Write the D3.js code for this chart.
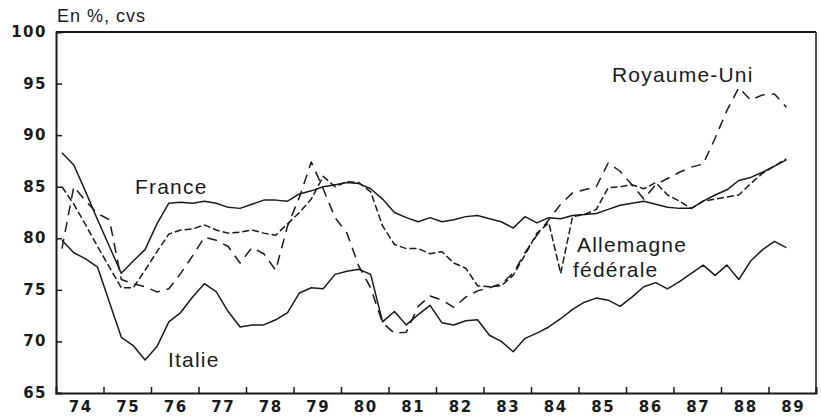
<!DOCTYPE html>
<html>
<head>
<meta charset="utf-8">
<script src="https://cdn.jsdelivr.net/npm/d3@7/dist/d3.min.js"></script>
<style>
  html, body { margin: 0; padding: 0; background: #fff; }
  svg { display: block; }
  .tick-label { font-family: "DejaVu Sans", sans-serif; font-weight: bold; font-size: 15px; fill: #1a1a1a; letter-spacing: 1.5px; }
  .series-label { font-family: "Liberation Sans", Arial, sans-serif; font-size: 21px; fill: #1a1a1a; letter-spacing: 1.2px; }
  .unit-label { font-family: "Liberation Sans", Arial, sans-serif; font-size: 18px; fill: #1a1a1a; letter-spacing: 1px; }
</style>
</head>
<body>
<svg id="chart" width="821" height="416"></svg>
<script>
// Taux d'utilisation des capacités de production, données trimestrielles (74T1 - 89T2)
const years = ["74","75","76","77","78","79","80","81","82","83","84","85","86","87","88","89"];
const yTicks = [65, 70, 75, 80, 85, 90, 95, 100];

const france = [
  88.3, 87.1, 84.5, 81.8, 79.2, 76.6, 77.8, 78.9, 81.4, 83.4, 83.5, 83.4,
  83.6, 83.4, 83.0, 82.9, 83.3, 83.7, 83.7, 83.6, 84.3, 84.6, 85.0, 85.2,
  85.4, 85.3, 84.8, 83.8, 82.5, 82.0, 81.6, 82.0, 81.6, 81.8, 82.1, 82.2,
  81.9, 81.6, 81.0, 82.1, 81.5, 82.0, 81.9, 82.2, 82.3, 82.4, 82.8, 83.2,
  83.4, 83.6, 83.3, 83.0, 82.9, 82.9, 83.6, 84.2, 84.7, 85.6, 85.9, 86.4,
  87.0, 87.6
];

const italie = [
  79.8, 78.6, 78.0, 77.2, 73.8, 70.4, 69.6, 68.2, 69.5, 71.9, 72.8, 74.3,
  75.6, 74.8, 72.9, 71.4, 71.6, 71.6, 72.1, 72.8, 74.7, 75.2, 75.1, 76.5,
  76.8, 77.0, 76.5, 71.9, 72.9, 71.6, 72.6, 73.5, 71.8, 71.6, 72.0, 72.1,
  70.6, 70.0, 69.0, 70.3, 70.8, 71.4, 72.2, 73.1, 73.8, 74.2, 74.0, 73.4,
  74.3, 75.3, 75.7, 75.1, 75.8, 76.6, 77.4, 76.4, 77.4, 76.0, 77.8, 78.9,
  79.7, 79.1
];

const allemagne = [
  85.0, 83.3, 81.3, 79.2, 77.2, 75.2, 75.2, 76.9, 78.7, 80.4, 80.8, 80.9,
  81.3, 80.8, 80.5, 80.6, 80.8, 80.5, 80.3, 81.4, 82.5, 83.8, 86.0, 85.0,
  85.5, 85.4, 84.5, 81.2, 79.4, 79.0, 79.0, 78.5, 78.7, 77.6, 77.1, 75.4,
  75.3, 75.4, 76.4, 78.4, 80.5, 81.5, 76.6, 82.1, 82.3, 82.8, 84.9, 85.0,
  85.2, 84.8, 85.4, 84.2, 83.6, 82.9, 83.6, 83.8, 84.0, 84.2, 85.3, 86.3,
  87.0, 87.7
];

const royaumeUni = [
  79.0, 85.0, 83.6, 82.4, 81.8, 76.0, 75.6, 75.3, 74.8, 75.1, 76.6, 78.3,
  80.1, 79.8, 79.2, 77.6, 79.1, 78.5, 76.9, 81.2, 84.0, 87.4, 84.8, 82.0,
  80.5, 77.3, 75.2, 71.8, 70.8, 70.9, 73.4, 74.4, 74.0, 73.3, 74.3, 74.9,
  75.2, 75.6, 76.6, 78.6, 80.3, 81.8, 83.3, 84.4, 84.7, 85.0, 87.3, 86.5,
  85.2, 83.8, 85.2, 85.8, 86.4, 86.9, 87.2, 89.7, 92.4, 94.6, 93.4, 93.9,
  94.0, 92.7
];

const series = [
  { name: "France", values: france, dash: null },
  { name: "Italie", values: italie, dash: null },
  { name: "Allemagne fédérale", values: allemagne, dash: "7,3" },
  { name: "Royaume-Uni", values: royaumeUni, dash: "10,7" }
];

const svg = d3.select("#chart");
const ink = "#1a1a1a";

const x = d3.scaleLinear().domain([1974, 1990]).range([56, 816]);
const y = d3.scaleLinear().domain([65, 100]).range([393, 32]);

// quarter k sits at the middle of its quarter
const qx = k => x(1974 + (k + 0.5) / 4);

// frame: top and right borders
svg.append("line").attr("x1", x(1974)).attr("x2", x(1990)).attr("y1", y(100)).attr("y2", y(100))
  .attr("stroke", ink).attr("stroke-width", 2);
svg.append("line").attr("x1", x(1990)).attr("x2", x(1990)).attr("y1", y(100)).attr("y2", y(65))
  .attr("stroke", ink).attr("stroke-width", 1.5);

// left axis with inward ticks
const yAxis = d3.axisRight(y).tickValues(yTicks).tickSize(6).tickFormat("");
const gy = svg.append("g").attr("transform", `translate(${x(1974)},0)`).call(yAxis);
gy.select(".domain").attr("stroke", ink).attr("stroke-width", 2);
gy.selectAll(".tick line").attr("stroke", ink).attr("stroke-width", 1.5);
gy.selectAll(".tick").filter(d => d === 100 || d === 65).select("line").remove();

svg.append("g").selectAll("text").data(yTicks).join("text")
  .attr("class", "tick-label")
  .attr("x", 47).attr("y", d => y(d) + 5)
  .attr("text-anchor", "end")
  .text(d => d);

// bottom axis: year boundaries, ticks pointing up
const bounds = d3.range(1975, 1990);
const xAxis = d3.axisTop(x).tickValues(bounds).tickSize(6).tickFormat("");
const gx = svg.append("g").attr("transform", `translate(0,${y(65)})`).call(xAxis);
gx.select(".domain").attr("stroke", ink).attr("stroke-width", 2);
gx.selectAll(".tick line").attr("stroke", ink).attr("stroke-width", 1.5);

svg.append("g").selectAll("text").data(years).join("text")
  .attr("class", "tick-label")
  .attr("x", (d, i) => x(1974 + i + 0.5) + 1)
  .attr("y", 412)
  .attr("text-anchor", "middle")
  .text(d => d);

// series lines
const line = d3.line().x((d, i) => qx(i)).y(d => y(d));
svg.append("g").selectAll("path").data(series).join("path")
  .attr("d", d => line(d.values))
  .attr("fill", "none")
  .attr("stroke", ink)
  .attr("stroke-width", 1.5)
  .attr("stroke-linejoin", "round")
  .attr("stroke-dasharray", d => d.dash);

// labels
svg.append("text").attr("class", "unit-label").attr("x", 57).attr("y", 22).text("En %, cvs");
svg.append("text").attr("class", "series-label").attr("x", 135).attr("y", 194).text("France");
svg.append("text").attr("class", "series-label").attr("x", 168).attr("y", 367).text("Italie");
svg.append("text").attr("class", "series-label").attr("x", 612).attr("y", 82).text("Royaume-Uni");
svg.append("text").attr("class", "series-label").attr("x", 577).attr("y", 252).text("Allemagne");
svg.append("text").attr("class", "series-label").attr("x", 573).attr("y", 277).text("fédérale");
</script>
</body>
</html>
